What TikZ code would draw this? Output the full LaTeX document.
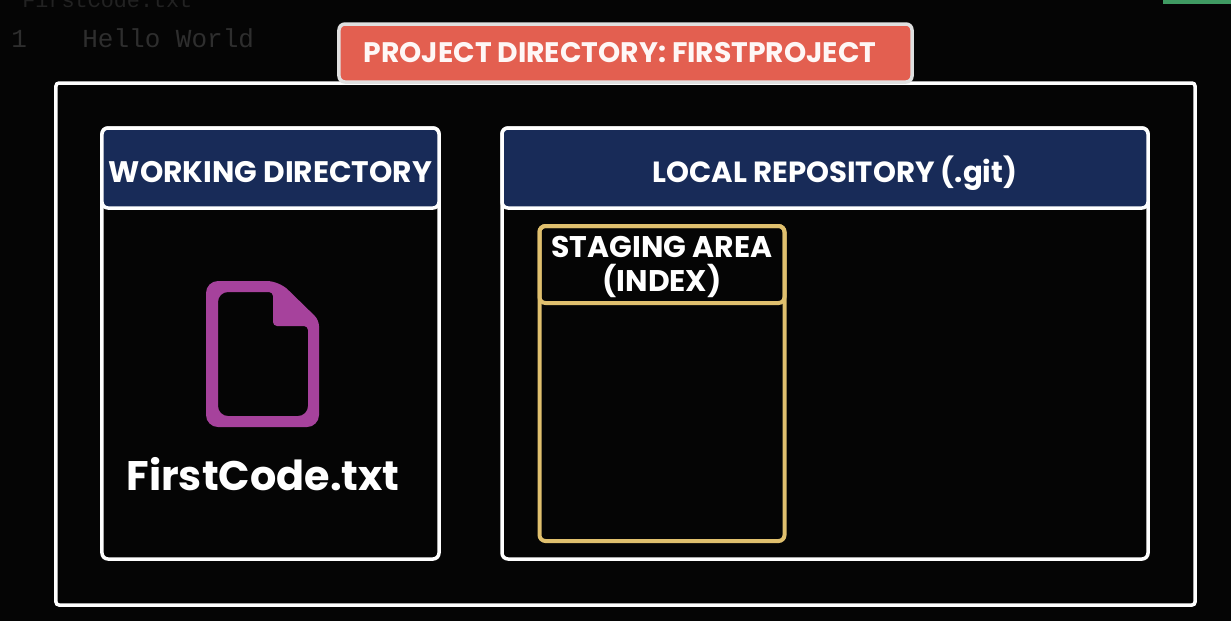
\documentclass[tikz,border=0pt]{standalone}
\usepackage{fontspec}
\setmainfont{Poppins}
\newfontfamily\codefont{Liberation Mono}
\usepackage{tikz}
\usetikzlibrary{positioning}
\definecolor{bgblack}{HTML}{050505}
\definecolor{titlered}{HTML}{E35F50}
\definecolor{headnavy}{HTML}{182B58}
\definecolor{stagegold}{HTML}{E0C06E}
\definecolor{filepurple}{HTML}{A6429C}
\definecolor{tabgreen}{HTML}{3F9A62}
\definecolor{codegrey}{HTML}{2E2E2E}
% text sits low in its box
\newcommand{\lowtext}[2]{\raisebox{#1}[\height][\depth]{\begin{tabular}{@{}c@{}}#2\end{tabular}}}
\begin{document}
\begin{tikzpicture}
[x=0.2mm, y=-0.2mm,
baseshape/.style={inner sep=0pt, line width=0.7mm, draw=white, rounded corners=1.2mm, align=center, text=white, font=\fontsize{16.6}{20}\selectfont\bfseries},
outerbox/.style={baseshape, rounded corners=0.6mm, minimum width=227.8mm, minimum height=104.4mm},
titlebox/.style={baseshape, draw=black!12, fill=titlered, text=white!95!titlered, minimum width=114.6mm, minimum height=11.6mm, font=\fontsize{16.07}{18}\selectfont\bfseries},
dirbox/.style={baseshape, minimum height=86.2mm},
headbox/.style={baseshape, fill=headnavy, minimum height=16mm},
stagebox/.style={baseshape, draw=stagegold, line width=0.8mm, minimum width=49mm},
codetext/.style={text=codegrey, inner sep=0pt, anchor=base west},
]
    \useasboundingbox (0,0) rectangle (1231,621);
    \fill[bgblack] (0,0) rectangle (1231,621);
    \begin{scope}
    \clip (0,0) rectangle (1231,621);
    \node (codename) [codetext, font=\codefont\fontsize{12.4}{14}\selectfont, text=codegrey!70!bgblack] at (22,7) {FirstCode.txt};
    \node (codeline) [codetext, font=\codefont\fontsize{14.8}{18}\selectfont] at (11,47.5) {1};
    \node (codehello) [codetext, font=\codefont\fontsize{14.8}{18}\selectfont] at (82,47.5) {Hello World};
    \fill[tabgreen] (1163,-5) rectangle (1236,4);
    \end{scope}

    \node (project) [outerbox] at (625.5,344) {};
    \node (title) [titlebox] at (625.5,53) {\lowtext{-0.6mm}{PROJECT DIRECTORY: FIRSTPROJECT}\hspace*{2.2mm}};
    \node (workdir) [dirbox, minimum width=67.4mm] at (270.5,343.5) {};
    \node (workhead) [headbox, minimum width=67.4mm, font=\fontsize{16.9}{20}\selectfont\bfseries] at (270.5,168) {\lowtext{-1.4mm}{WORKING DIRECTORY}};
    \node (localrepo) [dirbox, minimum width=129.2mm] at (825,343.5) {};
    \node (localhead) [headbox, minimum width=129.2mm] at (825,168) {\hspace*{4mm}\lowtext{-1.3mm}{LOCAL REPOSITORY (.git)}};
    \node (stagearea) [stagebox, minimum height=63mm] at (662,383.5) {};
    \node (stagehead) [stagebox, minimum height=15.4mm, font=\fontsize{17}{18.8}\selectfont\bfseries] at (662,264.5) {\lowtext{-0.6mm}{STAGING AREA\\[-1.7pt](INDEX)}};

    \fill[filepurple, even odd rule, rounded corners=2.4mm]
        (206,281) -- (279,281) [rounded corners=1.2mm] -- (319,320) [rounded corners=2.4mm] -- (319,427) -- (206,427) -- cycle
        (218,292) [rounded corners=0.8mm] -- (273,292) -- (273,326) -- (308,326) [rounded corners=2mm] -- (308,416) -- (218,416) -- cycle;
    \node (filename) [text=white, inner sep=0pt, font=\fontsize{23.5}{28}\selectfont\bfseries] at (263,474.5) {FirstCode.txt};
\end{tikzpicture}
\end{document}
